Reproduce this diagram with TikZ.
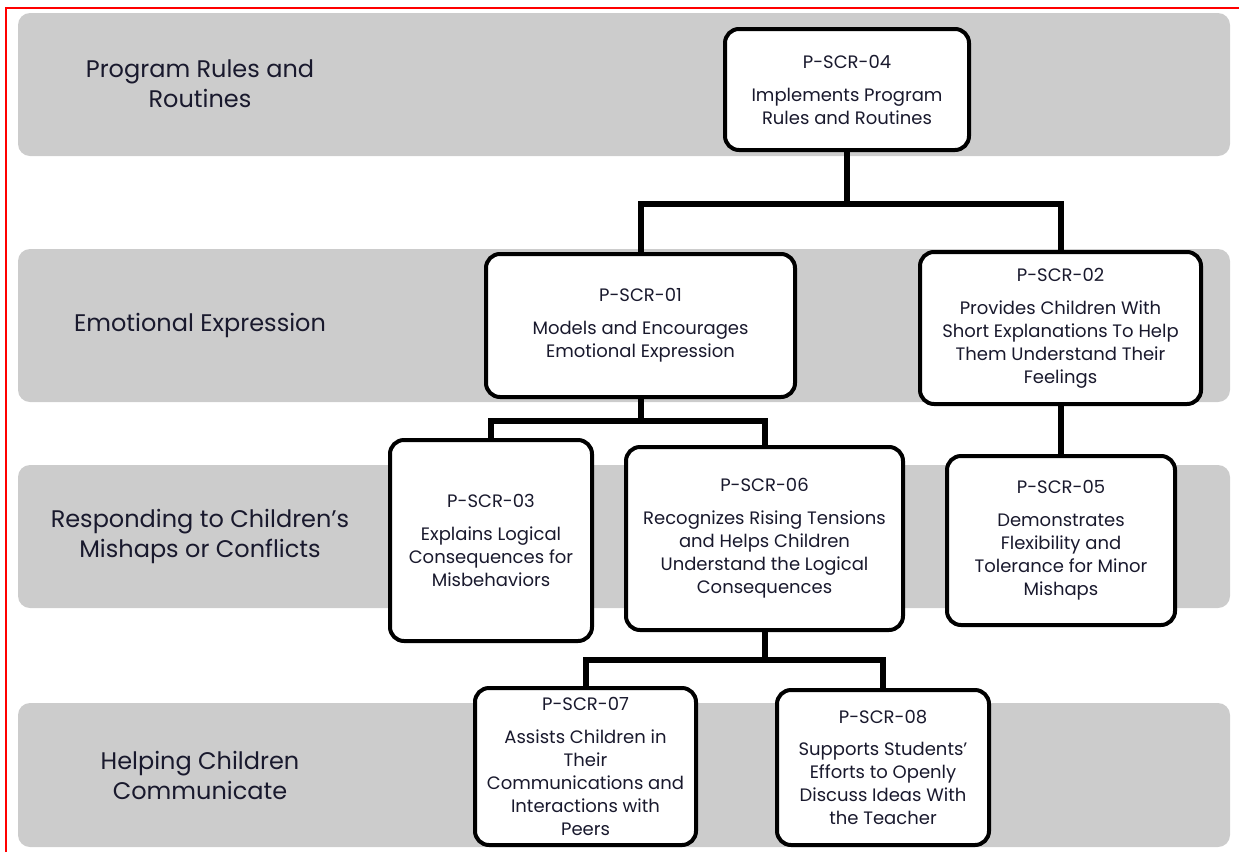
\documentclass[tikz,border=0pt]{standalone}
\usepackage{fontspec}
\setmainfont{Poppins}
\definecolor{ink}{RGB}{25,25,45}
\begin{document}
\begin{tikzpicture}[x=1pt,y=-1pt]
\tikzstyle{band} = [fill=black!20, rounded corners=12pt]
\tikzstyle{rowlabel} = [text=ink, align=center, font=\fontsize{24}{30}\selectfont]
\tikzstyle{box} = [draw=black, line width=4pt, fill=white, rounded corners=14pt, rectangle, align=center, inner sep=0pt, text=ink, font=\fontsize{18}{23}\selectfont]
\tikzstyle{link} = [line width=6pt]
\useasboundingbox (0,0) rectangle (1239,852);
%
\draw[red, line width=1.5pt] (6,852) -- (6,8) -- (1239,8);
\fill[band] (18,13) rectangle (1230,156);
\fill[band] (18,249) rectangle (1230,402);
\fill[band] (18,465) rectangle (1230,608);
\fill[band] (18,703) rectangle (1230,847);
%
\node[rowlabel] (rules) at (200,84) {Program Rules and\\Routines};
\node[rowlabel] (emotion) at (200,325) {Emotional Expression};
\node[rowlabel] (mishaps) at (200,536) {Responding to Children\symbol{39}s\\Mishaps or Conflicts};
\node[rowlabel] (talk) at (200,775) {Helping Children\\Communicate};
%
\node[box, minimum width=244pt, minimum height=121pt] (04) at (847,89.5) {P-SCR-04\\[10pt]Implements Program\\Rules and Routines};
\node[box, minimum width=309pt, minimum height=143pt] (01) at (640.5,325.5) {P-SCR-01\\[10pt]Models and Encourages\\Emotional Expression};
\node[box, minimum width=281pt, minimum height=152pt] (02) at (1060.5,328) {P-SCR-02\\[10pt]Provides Children With\\Short Explanations To Help\\Them Understand Their\\Feelings};
\node[box, minimum width=202pt, minimum height=201pt] (03) at (491,540.5) {P-SCR-03\\[10pt]Explains Logical\\Consequences for\\Misbehaviors};
\node[box, minimum width=277pt, minimum height=183pt] (06) at (764.5,538.5) {P-SCR-06\\[10pt]Recognizes Rising Tensions\\and Helps Children\\Understand the Logical\\Consequences};
\node[box, minimum width=228pt, minimum height=169pt] (05) at (1061,540.5) {P-SCR-05\\[10pt]Demonstrates\\Flexibility and\\Tolerance for Minor\\Mishaps};
\node[box, minimum width=221pt, minimum height=157pt] (07) at (585.5,766.5) {P-SCR-07\\[10pt]Assists Children in\\Their\\Communications and\\Interactions with\\Peers};
\node[box, minimum width=212pt, minimum height=155pt] (08) at (883,767.5) {P-SCR-08\\[9pt]Supports Students\symbol{39}\\Efforts to Openly\\Discuss Ideas With\\the Teacher};
%
\path (04.south) ++(0,52) coordinate (j04);
\path (01.south) ++(0,22) coordinate (j01);
\path (06.south) ++(0,28) coordinate (j06);
\draw[link] (04.south) -- (j04);
\draw[link] (01.north) |- (j04) -| (02.north);
\draw[link] (01.south) -- (j01);
\draw[link] (03.north) |- (j01) -| (06.north);
\draw[link] (02.south) -- (02.south |- 05.north);
\draw[link] (06.south) -- (j06);
\draw[link] (07.north) |- (j06) -| (08.north);
\end{tikzpicture}
\end{document}
